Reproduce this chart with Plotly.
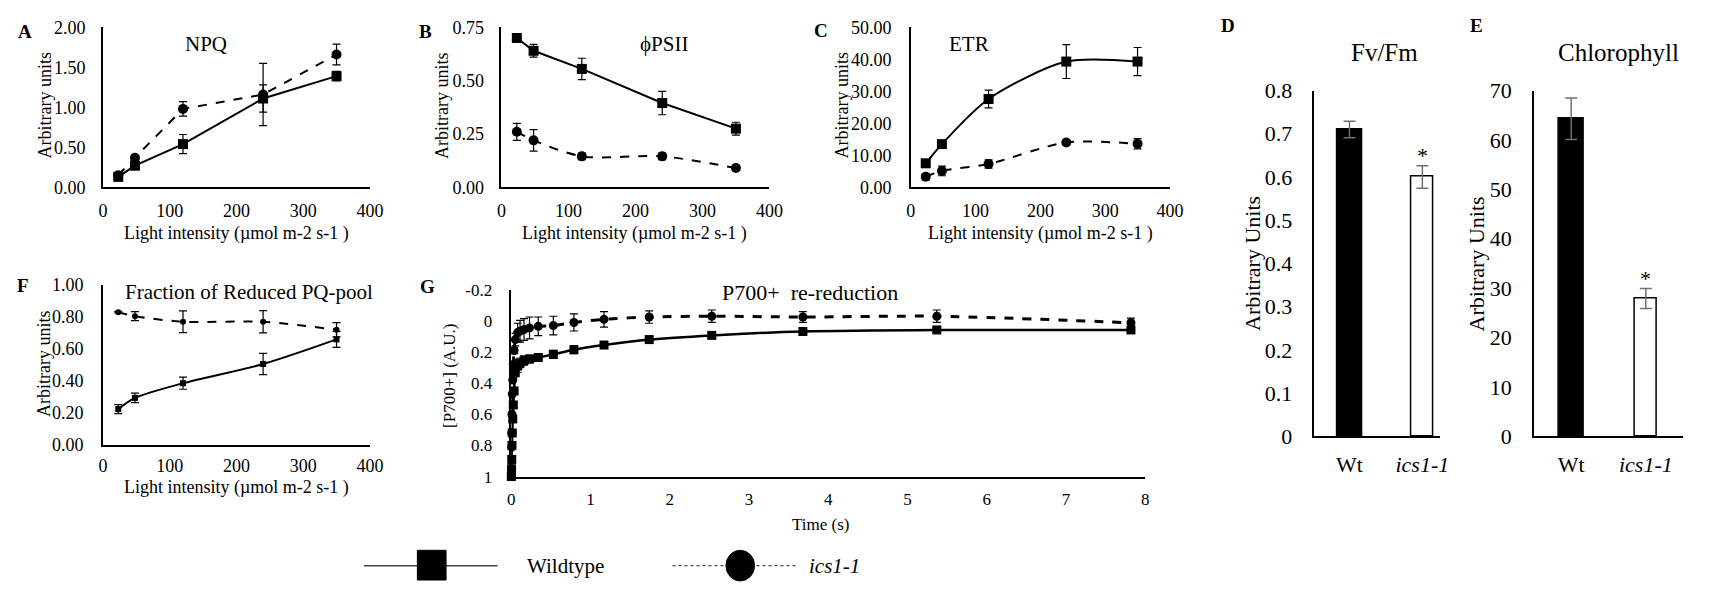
import plotly.graph_objects as go

W, H = 1713, 593
FONT = "Liberation Serif, Times New Roman, serif"

# ---------------- data ----------------
light = [23, 48, 120, 240, 350]

npq_wt = [0.13, 0.27, 0.54, 1.11, 1.39]
npq_wt_err = [0.03, 0.03, 0.12, 0.17, 0.06]
npq_ics = [0.15, 0.37, 0.98, 1.16, 1.66]
npq_ics_err = [0.03, 0.03, 0.09, 0.39, 0.13]

phi_wt = [0.70, 0.64, 0.555, 0.395, 0.275]
phi_wt_err = [0.015, 0.03, 0.05, 0.055, 0.03]
phi_ics = [0.26, 0.22, 0.145, 0.145, 0.09]
phi_ics_err = [0.04, 0.05, 0.015, 0.015, 0.01]

etr_wt = [7.5, 13.5, 27.6, 39.3, 39.3]
etr_wt_err = [1.0, 1.0, 2.8, 5.3, 4.4]
etr_ics = [3.3, 5.1, 7.3, 14.0, 13.6]
etr_ics_err = [1.0, 1.5, 1.3, 0.7, 1.6]

pq_wt = [0.224, 0.294, 0.386, 0.506, 0.66]
pq_wt_err = [0.028, 0.03, 0.038, 0.067, 0.05]
pq_ics = [0.83, 0.805, 0.77, 0.77, 0.72]
pq_ics_err = [0.005, 0.028, 0.068, 0.07, 0.045]

time_s = [0, 0.003, 0.005, 0.008, 0.012, 0.018, 0.025, 0.035, 0.05, 0.08, 0.11,
          0.16, 0.23, 0.34, 0.53, 0.79, 1.17, 1.74, 2.53, 3.68, 5.37, 7.82]
p700_wt = [1.00, 0.95, 0.89, 0.80, 0.72, 0.63, 0.54, 0.45, 0.33, 0.29, 0.27,
           0.255, 0.245, 0.235, 0.215, 0.185, 0.155, 0.12, 0.093, 0.068, 0.058, 0.058]
p700_wt_err = [0, 0, 0, 0, 0, 0, 0, 0.01, 0.03, 0.04, 0.03,
               0.03, 0.025, 0.02, 0.025, 0.025, 0.02, 0.02, 0.02, 0.02, 0.015, 0.015]
p700_ics = [0.98, 0.81, 0.72, 0.60, 0.47, 0.38, 0.28, 0.19, 0.12, 0.075, 0.066,
            0.055, 0.045, 0.035, 0.03, 0.01, -0.01, -0.025, -0.03, -0.025, -0.03, 0.012]
p700_ics_err = [0, 0, 0, 0, 0, 0, 0.01, 0.02, 0.04, 0.06, 0.07,
                0.07, 0.07, 0.06, 0.06, 0.055, 0.05, 0.04, 0.04, 0.035, 0.04, 0.03]

genotypes = ["Wt", "ics1-1"]
genotype_labels = ["Wt", "<i>ics1-1</i>"]
fvfm = [0.71, 0.60]
fvfm_err = [0.019, 0.026]
chl = [64.3, 27.9]
chl_err = [4.2, 2.0]

# ---------------- helpers ----------------
def px(x):
    return x / W

def py(y):
    return 1 - y / H

fig = go.Figure()

def err(arr, color="black", width=4, thick=1.2):
    return dict(type="data", array=arr, color=color, thickness=thick, width=width, visible=True)

def add_pair(xa, ya, x, wt, wte, ics, icse, shape_wt="linear", shape_ics="linear",
             msize=10, lw=2, dash="dash", ics_lw=2):
    fig.add_trace(go.Scatter(
        x=x, y=ics, mode="lines+markers", xaxis=xa, yaxis=ya, cliponaxis=False,
        line=dict(color="black", width=ics_lw, dash=dash, shape=shape_ics, smoothing=0.8),
        marker=dict(symbol="circle", size=msize, color="black"),
        error_y=err(icse), showlegend=False))
    fig.add_trace(go.Scatter(
        x=x, y=wt, mode="lines+markers", xaxis=xa, yaxis=ya, cliponaxis=False,
        line=dict(color="black", width=lw, shape=shape_wt, smoothing=0.8),
        marker=dict(symbol="square", size=msize, color="black"),
        error_y=err(wte), showlegend=False))

add_pair("x", "y", light, npq_wt, npq_wt_err, npq_ics, npq_ics_err)
add_pair("x2", "y2", light, phi_wt, phi_wt_err, phi_ics, phi_ics_err,
         shape_ics="spline")
add_pair("x3", "y3", light, etr_wt, etr_wt_err, etr_ics, etr_ics_err,
         shape_wt="spline", shape_ics="spline")
add_pair("x6", "y6", light, pq_wt, pq_wt_err, pq_ics, pq_ics_err,
         shape_wt="spline", shape_ics="spline", msize=6)
add_pair("x7", "y7", time_s, p700_wt, p700_wt_err, p700_ics, p700_ics_err,
         shape_wt="spline", shape_ics="spline", msize=9, lw=2.5, ics_lw=3)

# bar panels
bar_x = [0, 1]
fig.add_trace(go.Bar(x=bar_x, y=fvfm, xaxis="x4", yaxis="y4", width=[0.34, 0.30],
                     marker=dict(color=["black", "white"], line=dict(color="black", width=1.5)),
                     error_y=err(fvfm_err, color="#707070", width=6, thick=1.5),
                     showlegend=False))
fig.add_trace(go.Bar(x=bar_x, y=chl, xaxis="x5", yaxis="y5", width=[0.34, 0.30],
                     marker=dict(color=["black", "white"], line=dict(color="black", width=1.5)),
                     error_y=err(chl_err, color="#707070", width=6, thick=1.5),
                     showlegend=False))

# ---------------- axes ----------------
def xax(dom, rng, dtick, anchor, size=18, **kw):
    d = dict(domain=dom, range=rng, dtick=dtick, tick0=0, anchor=anchor,
             showline=True, linecolor="black", linewidth=1.5, showgrid=False,
             zeroline=False, ticks="", ticklabelstandoff=6,
             tickfont=dict(family=FONT, size=size, color="black"))
    d.update(kw)
    return d

def yax(dom, rng, anchor, size=18, standoff=12, **kw):
    d = dict(domain=dom, range=rng, anchor=anchor,
             showline=True, linecolor="black", linewidth=1.5, showgrid=False,
             zeroline=False, ticks="", ticklabelstandoff=standoff,
             tickfont=dict(family=FONT, size=size, color="black"))
    d.update(kw)
    return d

topY = [py(183), py(16)]
fig.update_layout(
    font=dict(family=FONT, color="black"),
    xaxis=xax([px(99), px(369)], [0, 400], 100, "y"),
    yaxis=yax(topY, [0, 2], "x", dtick=0.5, tickformat=".2f"),
    xaxis2=xax([px(502), px(773)], [0, 400], 100, "y2"),
    yaxis2=yax(topY, [0, 0.75], "x2", dtick=0.25, tickformat=".2f"),
    xaxis3=xax([px(916), px(1178)], [0, 400], 100, "y3"),
    yaxis3=yax(topY, [0, 50], "x3", dtick=10, tickformat=".2f", standoff=14),
    xaxis4=xax([px(1324), px(1451)], [-0.483, 1.241], 1, "y4", size=22,
               tickvals=bar_x, ticktext=genotype_labels, ticklabelstandoff=8),
    yaxis4=yax([py(443), py(82)], [0, 0.8], "x4", size=22, dtick=0.1, standoff=16),
    xaxis5=xax([px(1546), px(1697)], [-0.5, 1.5], 1, "y5", size=22,
               tickvals=bar_x, ticktext=genotype_labels, ticklabelstandoff=8),
    yaxis5=yax([py(443), py(82)], [0, 70], "x5", size=22, dtick=10, standoff=16),
    xaxis6=xax([px(99), px(369)], [0, 400], 100, "y6", ticklabelstandoff=4),
    yaxis6=yax([py(452), py(285)], [0, 1], "x6", dtick=0.2, tickformat=".2f", standoff=14),
    xaxis7=xax([px(512), px(1153)], [0, 8], 1, "y7", size=17),
    yaxis7=yax([py(485), py(290)], [1, -0.2], "x7", size=17, standoff=14,
               tickvals=[-0.2, 0, 0.2, 0.4, 0.6, 0.8, 1],
               ticktext=["-0.2", "0", "0.2", "0.4", "0.6", "0.8", "1"]),
    width=W, height=H, margin=dict(l=0, r=0, t=0, b=0),
    plot_bgcolor="white", paper_bgcolor="white", showlegend=False,
    bargap=0,
)

# ---------------- text ----------------
ann = []
def text(x, y, s, size=18, bold=False, italic=False, angle=0, xanchor="center"):
    if bold:
        s = "<b>" + s + "</b>"
    if italic:
        s = "<i>" + s + "</i>"
    ann.append(dict(x=px(x), y=py(y), xref="paper", yref="paper", text=s,
                    showarrow=False, xanchor=xanchor, yanchor="middle", textangle=angle,
                    font=dict(family=FONT, size=size, color="black")))

# panel letters
for L, x, y in [("A", 20, 20), ("B", 425, 20), ("C", 825, 19), ("D", 1237, 14),
                ("E", 1488, 14), ("F", 18, 286), ("G", 427, 287)]:
    text(x, y, L, size=19, bold=True)

# titles
text(203, 33, "NPQ", size=21)
text(666, 33, "ϕPSII", size=21)
text(975, 33, "ETR", size=21)
text(1395, 42, "Fv/Fm", size=25)
text(1632, 42, "Chlorophyll", size=25)
text(247, 292, "Fraction of Reduced PQ-pool", size=21)
text(814, 293, "P700+  re-reduction", size=22)

# axis titles
xt = "Light intensity (µmol m-2 s-1 )"
text(234, 231, xt)
text(637, 231, xt)
text(1047, 231, xt)
text(234, 496, xt)
text(825, 535, "Time (s)", size=17)
text(40, 98, "Arbitrary units", angle=-90)
text(442, 98, "Arbitrary units", angle=-90)
text(846, 98, "Arbitrary units", angle=-90)
text(40, 368, "Arbitrary units", angle=-90)
text(450, 380, "[P700+] (A.U.)", size=17, angle=-90)
text(1262, 263, "Arbitrary Units", size=22, angle=-90)
text(1488, 263, "Arbitrary Units", size=22, angle=-90)

# significance asterisks (placed above the ics1-1 error bars)
ann.append(dict(x=1, y=fvfm[1] + fvfm_err[1], xref="x4", yref="y4", text="*",
                showarrow=False, yanchor="bottom", yshift=-4,
                font=dict(family=FONT, size=22, color="black")))
ann.append(dict(x=1, y=chl[1] + chl_err[1], xref="x5", yref="y5", text="*",
                showarrow=False, yanchor="bottom", yshift=-4,
                font=dict(family=FONT, size=22, color="black")))

# legend
text(526, 578, "Wildtype", size=21, xanchor="left")
text(811, 578, "ics1-1", size=21, italic=True, xanchor="left")
fig.update_layout(annotations=ann)

shapes = [
    dict(type="line", xref="paper", yref="paper", x0=px(363), x1=px(498), y0=py(578), y1=py(578),
         line=dict(color="#444444", width=1.5)),
    dict(type="rect", xref="paper", yref="paper", x0=px(417), x1=px(446), y0=py(593), y1=py(562),
         fillcolor="black", line=dict(color="black", width=1)),
    dict(type="line", xref="paper", yref="paper", x0=px(675), x1=px(802), y0=py(578), y1=py(578),
         line=dict(color="#444444", width=1.2, dash="dot")),
    dict(type="circle", xref="paper", yref="paper", x0=px(729), x1=px(758), y0=py(594), y1=py(562),
         fillcolor="black", line=dict(color="black", width=1)),
]
fig.update_layout(shapes=shapes)

fig.write_html("out.html")
